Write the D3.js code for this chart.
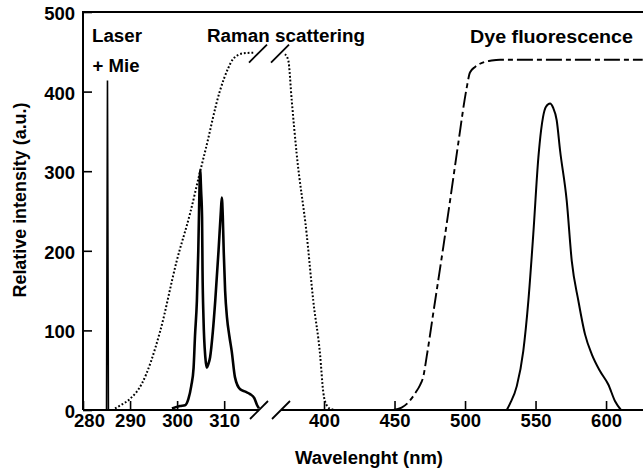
<!DOCTYPE html>
<html>
<head>
<meta charset="utf-8">
<script src="https://cdn.jsdelivr.net/npm/d3@7"></script>
<style>
  html, body { margin: 0; padding: 0; background: #fff; }
  svg { display: block; }
  text { font-family: "Liberation Sans", Arial, Helvetica, sans-serif; font-weight: bold; fill: #000; }
</style>
</head>
<body>
<svg id="chart" width="643" height="476"></svg>
<script>
// Tick labels
const xTicksLeft = [280, 290, 300, 310];
const xTicksRight = [400, 450, 500, 550, 600];
const yTicks = [0, 100, 200, 300, 400, 500];

// Laser line + Mie scattering
const laserWl = [285.0, 285.2, 285.4];
const laserI  = [0, 414, 0];

// Raman scattering spectrum
const ramanWl = [298.9, 300.6, 301.7, 302.4, 303.0, 303.5, 303.8, 304.2, 304.5, 304.7, 304.9, 305.1, 305.3, 305.4, 305.6, 306.0, 306.3, 306.6, 307.0, 307.6, 308.1, 308.8, 309.3, 309.5, 309.7, 309.9, 310.2, 310.6, 311.1, 311.6, 312.3, 313.4, 314.5, 315.5, 316.4, 317.0, 317.4];
const ramanI  = [2, 5, 6, 14, 30, 53, 93, 137, 200, 263, 301, 275, 242, 175, 116, 66, 53, 57, 66, 99, 137, 200, 250, 267, 244, 200, 150, 116, 93, 74, 41, 26, 23, 20, 15, 6, 2];

// UV filter transmission (dotted), left and right of the axis break
const uvFilterWlA = [286.8, 288.3, 290.0, 292.5, 296.4, 299.9, 302.8, 304.9, 306.0, 309.1, 310.9, 311.9, 314.0, 316.6];
const uvFilterTA  = [2, 7, 14, 33, 99, 187, 248, 300, 326, 401, 430, 441, 448, 449];
const uvFilterWlB = [372.3, 374.7, 377.1, 380.6, 387.7, 392.4, 397.2, 399.5, 401.9, 405.0, 409.0];
const uvFilterTB  = [447, 439, 389, 322, 221, 137, 70, 22, 6, 1, 0];

// Dye filter transmission (dash-dot)
const dyeFilterWl = [449.1, 455.0, 460.0, 465.0, 468.0, 470.4, 472.8, 477.5, 484.6, 490.6, 495.2, 501.2, 503.5, 507.1, 510.6, 518.9, 524.8, 626.0];
const dyeFilterT  = [0, 3, 10, 22, 31, 42, 67, 122, 205, 278, 335, 405, 424, 431, 435, 439, 440, 440];

// Dye fluorescence spectrum
const fluoWl = [529.6, 531.9, 536.7, 541.3, 544.9, 548.4, 552.0, 553.9, 555.3, 557.4, 560.3, 562.4, 565.0, 567.4, 572.1, 575.7, 580.4, 585.1, 589.9, 595.7, 601.6, 606.4, 610.6];
const fluoI  = [0, 8, 30, 74, 137, 221, 317, 351, 368, 381, 385, 380, 364, 326, 263, 187, 137, 95, 70, 49, 32, 11, 0];

const zip = (xs, ys) => xs.map((x, i) => [x, ys[i]]);

const svg = d3.select("#chart");

// Broken wavelength axis: UV part and visible part
const x1 = d3.scaleLinear().domain([280, 317.4]).range([83, 259]);
const x2 = d3.scaleLinear().domain([369.5, 626.2]).range([281, 643]);
const y  = d3.scaleLinear().domain([0, 500]).range([410, 12]);

const lineOn = (xs) => d3.line().x(d => xs(d[0])).y(d => y(d[1])).curve(d3.curveMonotoneX);

// Frame: left axis, top border, bottom axis pieces
svg.append("line").attr("x1", x1.range()[0]).attr("x2", x1.range()[0]).attr("y1", y(500)).attr("y2", y(0))
  .attr("stroke", "#000").attr("stroke-width", 2);
svg.append("line").attr("x1", x1.range()[0] - 1).attr("x2", x2.range()[1]).attr("y1", y(500)).attr("y2", y(500))
  .attr("stroke", "#000").attr("stroke-width", 2);
svg.append("line").attr("x1", x1.range()[0]).attr("x2", x1.range()[1]).attr("y1", y(0)).attr("y2", y(0))
  .attr("stroke", "#000").attr("stroke-width", 2);
svg.append("line").attr("x1", x2.range()[0]).attr("x2", x2.range()[1]).attr("y1", y(0)).attr("y2", y(0))
  .attr("stroke", "#000").attr("stroke-width", 2);

// Axis ticks and labels
const styleAxis = g => {
  g.select(".domain").remove();
  g.selectAll(".tick line").attr("stroke", "#000").attr("stroke-width", 1.6);
  g.selectAll(".tick text").attr("font-size", 18.5).attr("font-family", null).attr("fill", "#000");
};

svg.append("g").attr("transform", `translate(0,${y(0)})`)
  .call(d3.axisBottom(x1).tickValues(xTicksLeft).tickSizeInner(-9).tickSizeOuter(0).tickPadding(4).tickFormat(d3.format("d")))
  .call(styleAxis)
  .call(g => g.selectAll(".tick").filter(d => d === 280).select("text").attr("dx", 6));

svg.append("g").attr("transform", `translate(0,${y(0)})`)
  .call(d3.axisBottom(x2).tickValues(xTicksRight).tickSizeInner(-9).tickSizeOuter(0).tickPadding(4).tickFormat(d3.format("d")))
  .call(styleAxis);

svg.append("g").attr("transform", `translate(${x1.range()[0]},0)`)
  .call(d3.axisLeft(y).tickValues(yTicks).tickSizeInner(-9).tickSizeOuter(0).tickPadding(8).tickFormat(d3.format("d")))
  .call(styleAxis)
  .call(g => g.selectAll(".tick text").attr("dy", "0.4em"));

// Break marks on the axis and on the dotted filter curve
const breakXs = [x1.range()[1], x2.range()[0]];
const slash = (cx, cy) => svg.append("line")
  .attr("x1", cx - 9).attr("y1", cy + 9).attr("x2", cx + 9).attr("y2", cy - 9)
  .attr("stroke", "#000").attr("stroke-width", 1.8);
breakXs.forEach(bx => { slash(bx, y(0)); slash(bx - 1, y(449) + 1); });

// UV filter (dotted)
[[uvFilterWlA, uvFilterTA, x1], [uvFilterWlB, uvFilterTB, x2]].forEach(([wl, t, sx]) => {
  svg.append("path").datum(zip(wl, t)).attr("d", lineOn(sx))
    .attr("fill", "none").attr("stroke", "#000").attr("stroke-width", 2)
    .attr("stroke-dasharray", "1.8,2");
});

// Dye filter (dash-dot)
svg.append("path").datum(zip(dyeFilterWl, dyeFilterT)).attr("d", lineOn(x2))
  .attr("fill", "none").attr("stroke", "#000").attr("stroke-width", 1.9)
  .attr("stroke-dasharray", "16,4,5,4");

// Laser + Mie line
svg.append("path").datum(zip(laserWl, laserI))
  .attr("d", d3.line().x(d => x1(d[0])).y(d => y(d[1])))
  .attr("fill", "none").attr("stroke", "#000").attr("stroke-width", 1.6);

// Raman spectrum
svg.append("path").datum(zip(ramanWl, ramanI)).attr("d", lineOn(x1))
  .attr("fill", "none").attr("stroke", "#000").attr("stroke-width", 2.6).attr("stroke-linejoin", "round");

// Fluorescence spectrum
svg.append("path").datum(zip(fluoWl, fluoI)).attr("d", lineOn(x2))
  .attr("fill", "none").attr("stroke", "#000").attr("stroke-width", 2).attr("stroke-linejoin", "round");

// Annotations
const label = (txt, x, yy, len, size) => svg.append("text").attr("x", x).attr("y", yy)
  .attr("font-size", size).attr("textLength", len).attr("lengthAdjust", "spacingAndGlyphs").text(txt);
label("Laser", 92, 41.5, 50, 18);
label("+ Mie", 92.5, 71.5, 47, 18);
label("Raman scattering", 207, 41.5, 158, 18);
label("Dye fluorescence", 470, 42.5, 163, 18);

// Axis titles
svg.append("text").attr("x", 369).attr("y", 464).attr("text-anchor", "middle")
  .attr("font-size", 18).attr("textLength", 148).attr("lengthAdjust", "spacingAndGlyphs")
  .text("Wavelenght (nm)");
svg.append("text").attr("transform", "translate(26,200) rotate(-90)").attr("text-anchor", "middle")
  .attr("font-size", 18).attr("textLength", 195).attr("lengthAdjust", "spacingAndGlyphs")
  .text("Relative intensity (a.u.)");
</script>
</body>
</html>
